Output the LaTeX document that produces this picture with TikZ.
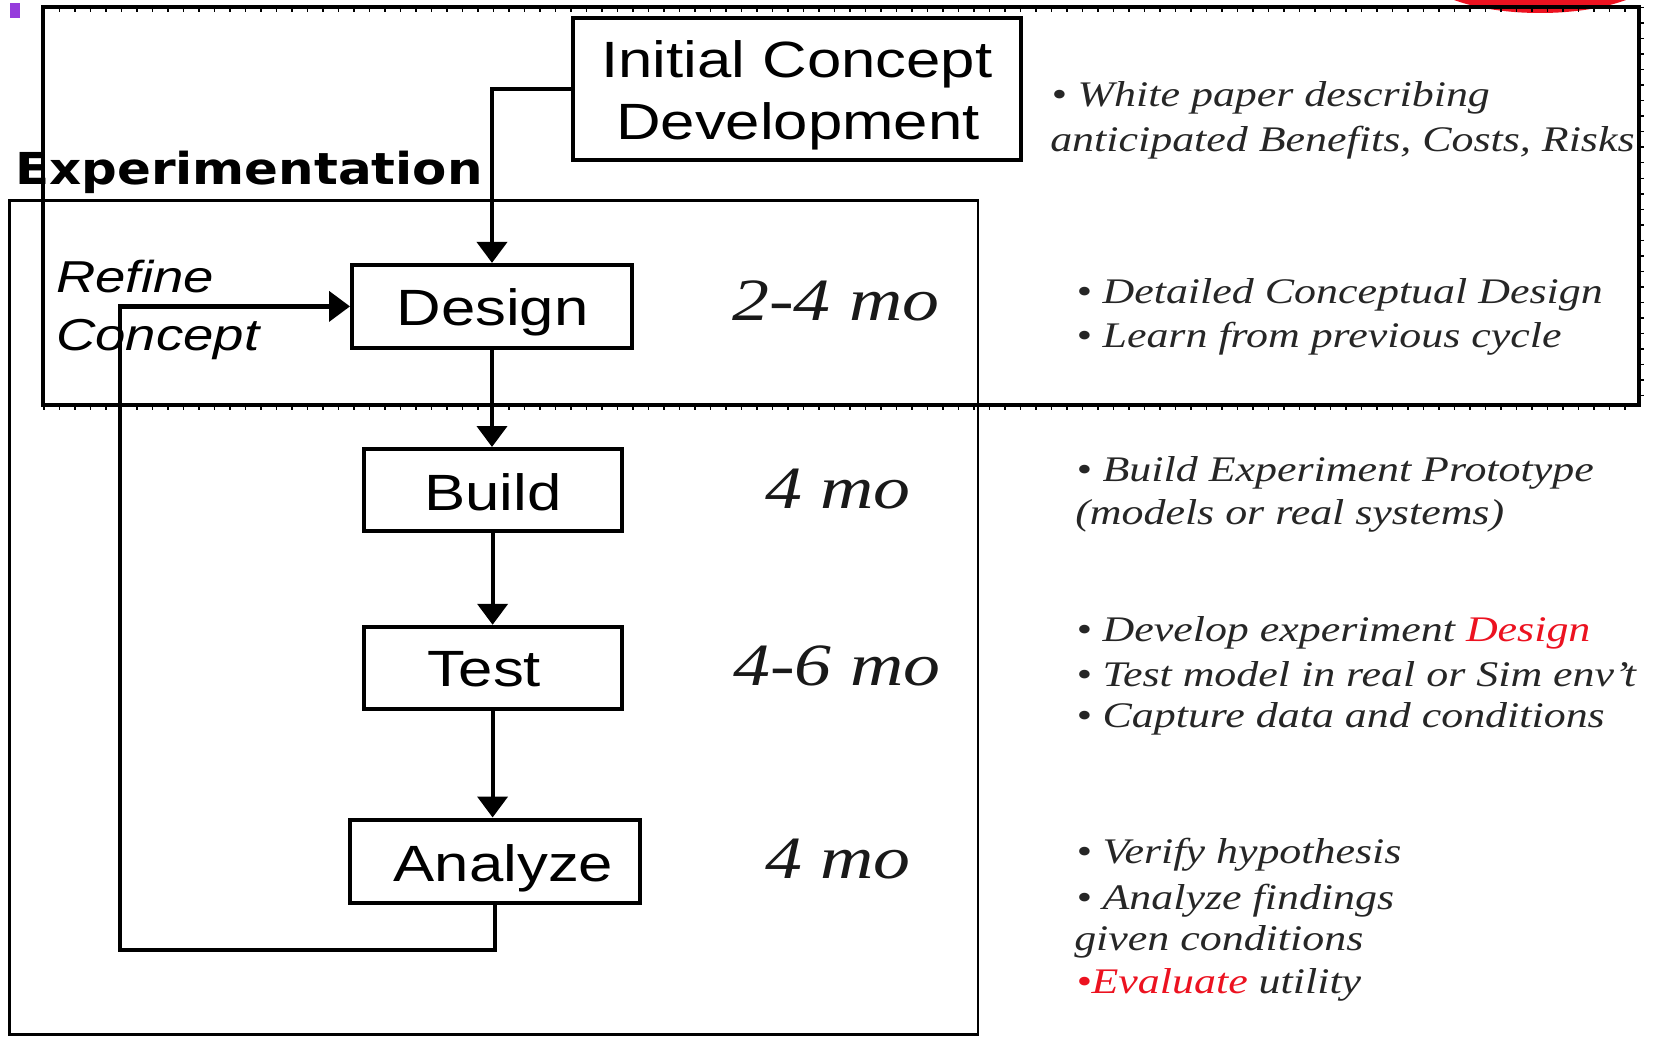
\documentclass[tikz,border=0pt]{standalone}
\usepackage{fontspec}
\setmainfont{Liberation Serif}
\newfontfamily\boxfont{Liberation Sans}
\newfontfamily\headfont{DejaVu Sans}
\usetikzlibrary{arrows.meta}
\definecolor{hilite}{RGB}{236,18,32}
\definecolor{notegray}{gray}{0.15}
\definecolor{markviolet}{RGB}{150,60,220}

\begin{document}
\begin{tikzpicture}[x=1pt,y=-1pt,
  stagebox/.style={draw, line width=4pt, inner sep=0pt},
  stagelabel/.style={font=\boxfont\fontsize{51}{60}\selectfont, inner sep=0pt, anchor=base, xscale=1.21},
  flow/.style={line width=4.2pt, -{Triangle[length=21pt,width=30pt]}},
  ticks/.style={line width=3pt, dash pattern=on 1.5pt off 14pt},
  period/.style={font=\itshape\fontsize{60}{70}\selectfont, inner sep=0pt, anchor=base west, xscale=1.23, text=black!90},
  note/.style={font=\itshape\fontsize{36}{44}\selectfont, inner sep=0pt, anchor=base west, xscale=1.22, text=notegray},
  sidelabel/.style={font=\boxfont\itshape\fontsize{44.7}{50}\selectfont, inner sep=0pt, anchor=base west, xscale=1.22},
]
\useasboundingbox (0,0) rectangle (1663,1038);
\fill[white] (0,0) rectangle (1663,1038);

% slide remnants along the top edge
\fill[hilite] (1540,-30) ellipse [x radius=120, y radius=43];
\fill[markviolet] (10,3) rectangle (20,18);

% concept frame (heavy border with small ticks)
\draw[line width=4pt] (43,7) rectangle (1639,405);
\draw[ticks] (43,10.5) -- (1639,10.5);
\draw[ticks] (43,408.5) -- (1639,408.5);
\draw[ticks] (1642.5,7) -- (1642.5,405);

% experimentation frame
\draw[line width=2.5pt] (9.5,200.7) rectangle (978,1034.5);
\node[font=\headfont\bfseries\fontsize{44}{50}\selectfont, anchor=base west, inner sep=0pt, xscale=1.135] (exp) at (15,185) {Experimentation};

% stages
\node[stagebox, minimum width=448pt, minimum height=142pt] (icd) at (797,89) {};
\node[stagebox, minimum width=280pt, minimum height=83pt] (design) at (492,306.4) {};
\node[stagebox, minimum width=258pt, minimum height=82pt] (build) at (492.6,490) {};
\node[stagebox, minimum width=258pt, minimum height=82pt] (test) at (492.6,667.8) {};
\node[stagebox, minimum width=290pt, minimum height=83pt] (analyze) at (494.8,861) {};

\node[stagelabel] (icdA) at (797,78) {Initial Concept};
\node[stagelabel] (icdB) at (798,140) {Development};
\node[stagelabel] (designT) at (492.5,325) {Design};
\node[stagelabel] (buildT) at (493,510) {Build};
\node[stagelabel] (testT) at (484.5,686.8) {Test};
\node[stagelabel] (analyzeT) at (503.5,881) {Analyze};

\node[sidelabel] (refA) at (56,292) {Refine};
\node[sidelabel] (refB) at (56,350) {Concept};

% connectors
\coordinate (loopcorner) at (120,950);
\draw[flow] (icd.west) -| (design.north);
\draw[flow] (design.south) -- (design.south |- build.north);
\draw[flow] (build.south) -- (build.south |- test.north);
\draw[flow] (test.south) -- (test.south |- analyze.north);
\draw[flow] (analyze.south) |- (loopcorner) |- (design.west);

% durations
\node[period] (d1) at (732,320) {2-4 mo};
\node[period] (d2) at (765,508) {4 mo};
\node[period] (d3) at (733,685) {4-6 mo};
\node[period] (d4) at (765,878) {4 mo};

% notes
\node[note] (n1) at (1051,107) {• White paper describing};
\node[note] (n2) at (1050,152) {anticipated Benefits, Costs, Risks};
\node[note] (n3) at (1076,303) {• Detailed Conceptual Design};
\node[note] (n4) at (1076,347) {• Learn from previous cycle};
\node[note] (n5) at (1076,481) {• Build Experiment Prototype};
\node[note] (n6) at (1075,524) {(models or real systems)};
\node[note] (n7) at (1076,641) {• Develop experiment \textcolor{hilite}{Design}};
\node[note] (n8) at (1076,686) {• Test model in real or Sim env’t};
\node[note] (n9) at (1076,727) {• Capture data and conditions};
\node[note] (n10) at (1076,863) {• Verify hypothesis};
\node[note] (n11) at (1076,909) {• Analyze findings};
\node[note] (n12) at (1074,950) {given conditions};
\node[note] (n13) at (1076,993.5) {\textcolor{hilite}{•Evaluate} utility};
\end{tikzpicture}
\end{document}
